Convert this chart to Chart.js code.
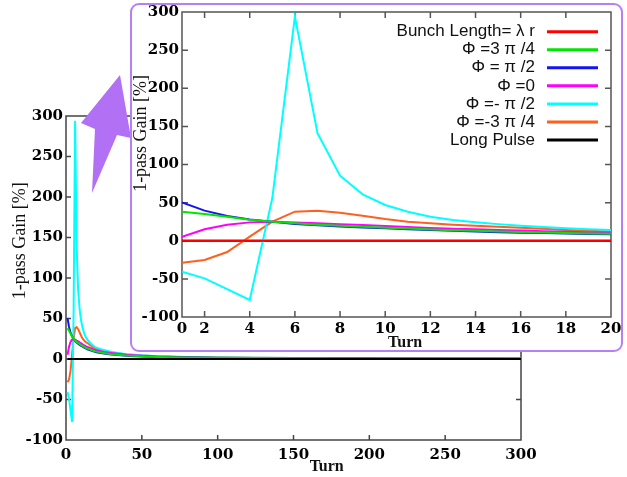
<!DOCTYPE html>
<html>
<head>
<meta charset="utf-8">
<script src="https://cdn.jsdelivr.net/npm/chart.js@4.4.1/dist/chart.umd.min.js"></script>
<style>
  html, body { margin: 0; padding: 0; background: #fff; }
  #wrap { position: relative; width: 627px; height: 477px; overflow: hidden; background: #fff; }
  #mainChart { position: absolute; left: 0; top: 0; }
  #arrow { position: absolute; left: 0; top: 0; }
  #inset { position: absolute; left: 130px; top: 3px; width: 489px; height: 345px;
           border: 2px solid #b680f2; border-radius: 9px; background: #fff; }
  #insetChart { display: block; }
</style>
</head>
<body>
<div id="wrap">
  <canvas id="mainChart" width="627" height="477"></canvas>
  <svg id="arrow" width="627" height="477"><polygon points="120,75 131,138 117,135 92,193 95,129 81,123" fill="#b270f4"/></svg>
  <div id="inset"><canvas id="insetChart" width="489" height="345"></canvas></div>
</div>
<script>
// Turn numbers of the sampled passes
const turns = [1, 2, 3, 4, 5, 6, 7, 8, 9, 10, 11, 12, 13, 14, 15, 16, 17, 18, 19, 20,
               25, 30, 40, 50, 60, 80, 100, 150, 200, 250, 300];

// One-pass gain [%] per series
const gainBunchLength = [0, 0, 0, 0, 0, 0, 0, 0, 0, 0, 0, 0, 0, 0, 0, 0, 0, 0, 0, 0,
                         0, 0, 0, 0, 0, 0, 0, 0, 0, 0, 0];
const gainPhi3Pi4 = [38.1, 35, 31.6, 27.6, 25, 22.8, 21, 19.7, 18.4, 17.2, 16, 14.9, 13.9, 13, 12.2, 11.5, 10.8, 10.2, 9.6, 9.1,
                     7.3, 6, 4.3, 3.3, 2.6, 1.8, 1.4, 0.9, 0.6, 0.5, 0.4];
const gainPhiPi2 = [50.4, 39.5, 32.5, 28, 25, 22, 20.3, 18.8, 17.5, 16.3, 15.1, 14, 13, 12, 11.3, 10.6, 10, 9.4, 8.9, 8.4,
                    6.8, 5.6, 4, 3.1, 2.4, 1.7, 1.3, 0.8, 0.6, 0.4, 0.3];
const gainPhi0 = [5.3, 15, 21, 24.1, 25, 24, 22.8, 21.8, 20.5, 19.3, 18, 16.8, 15.8, 15, 14.2, 13.4, 12.6, 11.9, 11.2, 10.6,
                  8.8, 7.3, 5.3, 4, 3.1, 2.2, 1.6, 1, 0.7, 0.5, 0.4];
const gainPhiMinusPi2 = [-40.6, -49.3, -63.5, -77.7, 56, 294, 141, 85.3, 60.8, 46.9, 38.1, 31.6, 27.2, 24.2, 21.8, 19.8, 18, 16.3, 15.1, 14.1,
                         11, 8.7, 6, 4.5, 3.5, 2.4, 1.8, 1.1, 0.8, 0.6, 0.5];
const gainPhiMinus3Pi4 = [-28.8, -25.3, -14.8, 5.5, 25, 38.1, 39.4, 36.8, 32.9, 28.5, 25, 22.8, 21, 19.8, 18.5, 17.2, 15.6, 14.1, 13, 12,
                          9.8, 7.9, 5.6, 4.2, 3.3, 2.3, 1.7, 1.1, 0.8, 0.6, 0.5];
const gainLongPulse = [0, 0, 0, 0, 0, 0, 0, 0, 0, 0, 0, 0, 0, 0, 0, 0, 0, 0, 0, 0,
                       0, 0, 0, 0, 0, 0, 0, 0, 0, 0, 0];

const seriesLabels = ['Bunch Length= \u03BB r', '\u03A6 =3 \u03C0 /4', '\u03A6 = \u03C0 /2', '\u03A6 =0',
                      '\u03A6 =- \u03C0 /2', '\u03A6 =-3 \u03C0 /4', 'Long Pulse'];
const seriesColors = ['#ff0000', '#00e600', '#1414f0', '#ff00ff', '#00ffff', '#ff5f1f', '#000000'];
const seriesValues = [gainBunchLength, gainPhi3Pi4, gainPhiPi2, gainPhi0, gainPhiMinusPi2, gainPhiMinus3Pi4, gainLongPulse];

// Axis ticks
const gainTicks = [-100, -50, 0, 50, 100, 150, 200, 250, 300];
const mainTurnTicks = [0, 50, 100, 150, 200, 250, 300];
const zoomTurnTicks = [1, 2, 4, 6, 8, 10, 12, 14, 16, 18, 20];
const zoomTurnTickLabels = ['0', '2', '4', '6', '8', '10', '12', '14', '16', '18', '20'];

const xTitle = 'Turn';
const yTitle = '1-pass Gain [%]';

const serif = "'Liberation Serif', 'Times New Roman', serif";
const sans = "'Liberation Sans', Arial, sans-serif";
const tickFont = { family: "'DejaVu Serif', serif", size: 15, weight: 'bold' };

function makeDatasets(blackOnTop) {
  return seriesValues.map((vals, i) => ({
    label: seriesLabels[i],
    data: turns.map((t, k) => ({ x: t, y: vals[k] })),
    borderColor: seriesColors[i],
    backgroundColor: seriesColors[i],
    borderWidth: 2,
    pointRadius: 0,
    tension: 0,
    fill: false,
    order: (blackOnTop && i === seriesValues.length - 1) ? -1 : 0
  }));
}

// Box around the plot, inward tick marks on all four sides, axis titles, legend
const framePlugin = {
  id: 'frame',
  beforeDatasetsDraw(chart, args, o) {
    const { ctx, chartArea: a, scales } = chart;
    ctx.save();
    ctx.strokeStyle = o.color;
    ctx.lineWidth = o.width;
    ctx.strokeRect(a.left, a.top, a.right - a.left, a.bottom - a.top);
    ctx.beginPath();
    scales.x.ticks.forEach(t => {
      const p = scales.x.getPixelForValue(t.value);
      if (p <= a.left + 2 || p >= a.right - 2) return;
      ctx.moveTo(p, a.bottom); ctx.lineTo(p, a.bottom - o.tick);
      ctx.moveTo(p, a.top); ctx.lineTo(p, a.top + o.tick);
    });
    scales.y.ticks.forEach(t => {
      const p = scales.y.getPixelForValue(t.value);
      if (p <= a.top + 2 || p >= a.bottom - 2) return;
      ctx.moveTo(a.left, p); ctx.lineTo(a.left + o.tick, p);
      ctx.moveTo(a.right, p); ctx.lineTo(a.right - o.tick, p);
    });
    ctx.stroke();
    ctx.restore();
  },
  afterDraw(chart, args, o) {
    const { ctx, chartArea: a } = chart;
    const w = a.right - a.left, h = a.bottom - a.top;
    ctx.save();
    ctx.fillStyle = '#111';
    ctx.textAlign = 'center';
    ctx.textBaseline = 'middle';
    ctx.font = 'bold 16px ' + serif;
    ctx.fillText(xTitle, a.left + o.xTitleAt * w, o.xTitleY);
    ctx.translate(o.yTitleX, a.top + o.yTitleAt * h);
    ctx.rotate(-Math.PI / 2);
    ctx.font = '18px ' + serif;
    ctx.fillText(yTitle, 0, 0);
    ctx.restore();

    if (o.legend) {
      const L = o.legend;
      ctx.save();
      ctx.font = '17px ' + sans;
      ctx.textAlign = 'right';
      ctx.textBaseline = 'middle';
      chart.data.datasets.forEach((ds, i) => {
        const y = L.y0 + i * L.dy;
        ctx.fillStyle = '#111';
        ctx.fillText(ds.label, L.textRight, y);
        ctx.strokeStyle = ds.borderColor;
        ctx.lineWidth = 3;
        ctx.beginPath();
        ctx.moveTo(L.lineStart, y);
        ctx.lineTo(L.lineEnd, y);
        ctx.stroke();
      });
      ctx.restore();
    }
  }
};

function noPad(s) { s.paddingLeft = 0; s.paddingRight = 0; s.paddingTop = 0; s.paddingBottom = 0; }

// Full run: turns 0-300
new Chart(document.getElementById('mainChart'), {
  type: 'line',
  data: { datasets: makeDatasets(true) },
  plugins: [framePlugin],
  options: {
    responsive: false,
    animation: false,
    layout: { padding: { left: 0, right: 106, top: 116, bottom: 0 } },
    plugins: {
      legend: { display: false },
      tooltip: { enabled: false },
      frame: { color: '#444', width: 1.5, tick: 5, xTitleAt: 0.573, xTitleY: 467, yTitleX: 20, yTitleAt: 0.385 }
    },
    scales: {
      x: {
        type: 'linear', min: 0, max: 300,
        afterBuildTicks: s => { s.ticks = mainTurnTicks.map(v => ({ value: v })); },
        afterFit: s => { s.height = 37; noPad(s); },
        grid: { display: false, drawTicks: false },
        border: { display: false },
        ticks: { font: tickFont, color: '#000', padding: 6, maxRotation: 0, autoSkip: false }
      },
      y: {
        type: 'linear', min: -100, max: 300,
        afterBuildTicks: s => { s.ticks = gainTicks.map(v => ({ value: v })); },
        afterFit: s => { s.width = 66; noPad(s); },
        grid: { display: false, drawTicks: false },
        border: { display: false },
        ticks: { font: tickFont, color: '#000', padding: 3, autoSkip: false }
      }
    }
  }
});

// Close-up of the first 20 turns
new Chart(document.getElementById('insetChart'), {
  type: 'line',
  data: { datasets: makeDatasets(false) },
  plugins: [framePlugin],
  options: {
    responsive: false,
    animation: false,
    layout: { padding: { left: 0, right: 10, top: 7, bottom: 0 } },
    plugins: {
      legend: { display: false },
      tooltip: { enabled: false },
      frame: {
        color: '#555', width: 1.5, tick: 6, xTitleAt: 0.52, xTitleY: 338, yTitleX: 9, yTitleAt: 0.398,
        legend: { y0: 26.7, dy: 18.05, textRight: 403, lineStart: 415, lineEnd: 466 }
      }
    },
    scales: {
      x: {
        type: 'linear', min: 1, max: 20,
        afterBuildTicks: s => { s.ticks = zoomTurnTicks.map(v => ({ value: v })); },
        afterFit: s => { s.height = 33; noPad(s); },
        grid: { display: false, drawTicks: false },
        border: { display: false },
        ticks: { font: tickFont, color: '#000', padding: 3, maxRotation: 0, autoSkip: false,
                 callback: (v, i) => zoomTurnTickLabels[i] }
      },
      y: {
        type: 'linear', min: -100, max: 300,
        afterBuildTicks: s => { s.ticks = gainTicks.map(v => ({ value: v })); },
        afterFit: s => { s.width = 50; noPad(s); },
        grid: { display: false, drawTicks: false },
        border: { display: false },
        ticks: { font: tickFont, color: '#000', padding: 3, autoSkip: false }
      }
    }
  }
});
</script>
</body>
</html>
